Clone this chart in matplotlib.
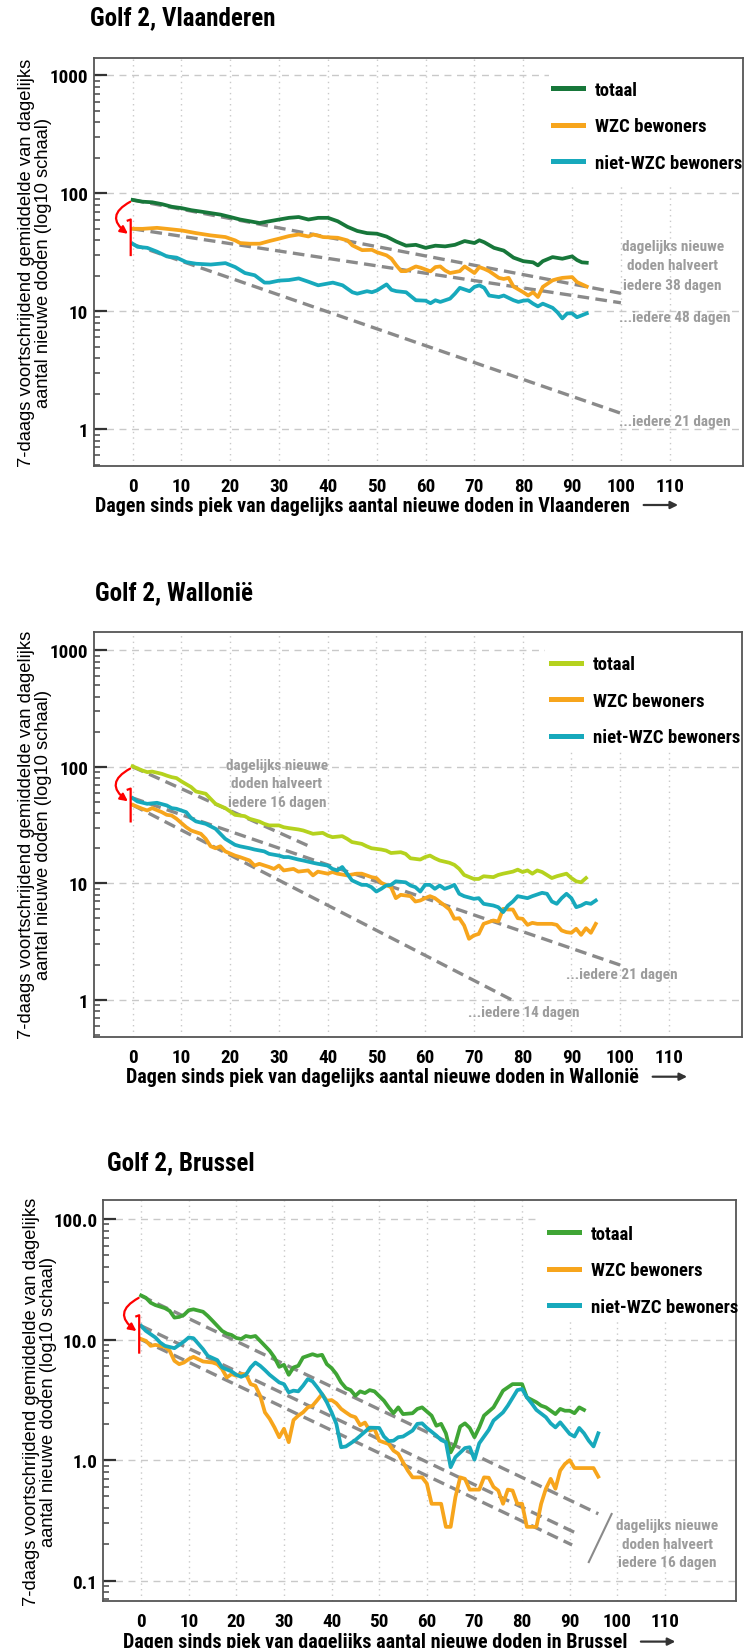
import matplotlib
matplotlib.use('Agg')
import matplotlib.pyplot as plt
import matplotlib.patches as mpatches
import matplotlib.font_manager as fm
from matplotlib.ticker import FixedLocator, LogLocator, NullFormatter
import numpy as np

W, H = 745, 1649

avail = {f.name for f in fm.fontManager.ttflist}
NARROW = next((n for n in ['Liberation Sans Narrow', 'Roboto Condensed', 'DejaVu Sans'] if n in avail), 'DejaVu Sans')
REGULAR = 'Liberation Sans' if 'Liberation Sans' in avail else 'DejaVu Sans'

# colours
TOT_VL = '#17773a'
TOT_WA = '#b5d21e'
TOT_BX = '#3fa535'
WZC = '#f7a51c'
NIET = '#17a9bc'
TREND = '#8a8a8a'
NOTE = '#9c9c9c'
GRID = '#c9c9c9'

LABELS = ['totaal', 'WZC bewoners', 'niet-WZC bewoners']

# ---- Vlaanderen: 7-day average of daily deaths, days since peak ----
vl_tot_days = [0, 2, 4, 6, 8, 10, 12, 14, 16, 18, 20, 22, 24, 26, 28, 30, 32, 34, 36, 38, 40, 42, 44, 46, 48,
               50, 52, 54, 56, 58, 60, 62, 64, 66, 68, 70, 71, 72, 74, 76, 78, 80, 82, 83, 84, 86, 88, 90, 91, 92, 93]
vl_tot = [88, 85, 84, 81, 77, 75, 72, 70, 68, 66, 63, 60, 58, 56, 58, 60, 62, 63, 60, 62, 62, 58, 52, 48, 46,
          45.5, 43, 39, 36, 36.6, 34.5, 36, 35.5, 36.6, 39.4, 37.9, 40, 38.5, 34.5, 32.7, 28.5, 26.6, 26, 24.5, 26.6,
          28.8, 27.9, 29.2, 27.2, 26, 25.8]
vl_wzc_days = [0, 2, 5, 7, 10, 13, 16, 19, 21, 22, 24, 26, 28, 30, 32, 34, 36, 37, 39, 42, 44, 45, 47, 49, 50,
               52, 53, 54, 55, 56, 58, 59, 61, 62, 63, 64, 65, 67, 68, 69, 70, 71, 72, 73, 75, 76, 77, 78, 80, 81,
               82, 83, 84, 86, 87, 88, 90, 91, 93]
vl_wzc = [50.1, 50, 51, 50, 48.5, 46, 44, 42.6, 39.9, 37.9, 37.4, 37.4, 39.4, 41.3, 43.4, 44.8, 43.1, 44.8, 42.6,
          42, 39.9, 36.2, 33, 33.2, 31.7, 29.8, 27.9, 24.5, 21.9, 21.9, 24, 23.4, 21.8, 23.7, 24, 22.2, 21.1, 21.9,
          24, 22.5, 21.1, 23.7, 22.9, 21.9, 19.2, 18.8, 19.2, 16.2, 14.5, 13.6, 14.5, 13.2, 16.1, 18.3, 18.8, 19.2,
          19.5, 17.7, 16.2]
vl_niet_days = [0, 1, 3, 5, 7, 9, 11, 13, 16, 19, 21, 23, 25, 27, 28, 30, 32, 34, 36, 38, 39, 41, 43, 45, 46,
                48, 49, 50, 52, 53, 54, 56, 57, 58, 60, 61, 62, 63, 65, 66, 67, 69, 70, 71, 72, 73, 75, 76, 78, 79,
                80, 81, 82, 83, 84, 86, 87, 88, 89, 90, 91, 93]
vl_niet = [37.4, 35.2, 34.5, 32, 29.2, 28.5, 26.1, 25.3, 24.9, 25.6, 23.7, 21.1, 20.2, 17.5, 17.5, 18.2, 18.4, 19,
           17.8, 16.6, 16.9, 17.5, 16.6, 14.5, 14.1, 14.8, 14.5, 15, 16.9, 15.2, 14.8, 14.5, 13.4, 12.4, 12.3, 11.7,
           12.4, 12, 12.8, 14.1, 15.8, 14.8, 16.1, 16.6, 15.8, 13.6, 13.2, 13.6, 12.4, 12, 12.3, 12.4, 11.6, 11,
           11.6, 10.7, 9.8, 8.7, 9.6, 9.6, 8.9, 9.6]
vl_trend_start = [88, 50, 37]
vl_halving = [38, 48, 21]
vl_trend_end = [100, 100, 100]

# ---- Wallonie ----
wa_tot_days = [0, 2, 3, 4, 6, 7, 8, 9, 10, 12, 13, 15, 16, 17, 19, 20, 21, 23, 24, 26, 27, 28, 30, 31, 32, 34,
               35, 37, 39, 40, 41, 43, 44, 45, 47, 48, 49, 51, 52, 53, 55, 56, 57, 59, 60, 61, 62, 63, 65, 66, 67,
               68, 70, 71, 72, 74, 75, 76, 78, 79, 80, 81, 82, 83, 84, 86, 87, 88, 89, 90, 91, 92, 93]
wa_tot = [101, 93, 90, 91, 87, 84, 81.5, 80, 75, 67, 61.4, 58.7, 53.1, 48.1, 44.2, 41.4, 38.7, 37.7, 35.8, 33.9,
          32.4, 31.4, 31.4, 30.3, 29.8, 29, 28.4, 26.6, 27.1, 25.7, 24.9, 25.4, 24.1, 22.6, 21.8, 20.8, 20, 19.5,
          19.1, 18.2, 18.5, 17.9, 16.4, 16, 16.8, 17.3, 16.4, 15.7, 15, 14.4, 13.3, 11.8, 10.9, 10.9, 11.5, 11.3,
          11.8, 12.1, 12.6, 13.1, 12.5, 12.9, 12.1, 12.9, 12.5, 11.1, 11.5, 11.8, 12.1, 11.1, 10.4, 10.2, 11.1]
wa_wzc_days = [0, 2, 3, 4, 6, 7, 8, 9, 11, 12, 14, 15, 16, 17, 18, 19, 21, 22, 24, 25, 26, 28, 29, 30, 31, 33,
               34, 36, 37, 38, 40, 41, 42, 44, 46, 47, 48, 49, 50, 51, 53, 54, 55, 57, 58, 59, 60, 61, 62, 64, 65,
               66, 67, 68, 69, 70, 71, 72, 74, 75, 76, 77, 78, 79, 80, 81, 82, 83, 85, 86, 87, 88, 89, 90, 91, 92,
               93, 94, 95]
wa_wzc = [47.2, 43.6, 42.2, 44.2, 40.8, 38.7, 38.2, 35.8, 30.3, 28.4, 26.6, 24.1, 20.8, 20, 20.8, 18.8, 17.3, 16.8,
          15.7, 14.2, 14.7, 13.8, 13.3, 14.2, 12.9, 13.3, 12.6, 12.9, 11.7, 12.6, 12.1, 12.5, 12.1, 11.7, 12.1,
          12.1, 11.7, 11.3, 11.1, 10.1, 9.27, 7.46, 7.97, 7.76, 6.98, 7.12, 7.46, 7.76, 7.46, 6.45, 5.96, 4.96,
          5.02, 4.35, 3.34, 3.57, 3.68, 4.49, 4.8, 4.7, 6.04, 5.96, 5.96, 5.02, 4.96, 4.4, 4.58, 4.49, 4.49, 4.49,
          4.4, 3.94, 3.81, 3.76, 4.07, 3.61, 4.12, 3.76, 4.49]
wa_niet_days = [0, 1, 3, 5, 7, 8, 9, 11, 12, 13, 15, 17, 18, 19, 21, 22, 24, 25, 27, 28, 30, 31, 32, 34, 35, 37,
                38, 40, 41, 42, 43, 44, 45, 47, 48, 49, 50, 51, 52, 53, 54, 56, 57, 58, 59, 60, 61, 62, 63, 64, 65,
                66, 67, 68, 70, 71, 72, 74, 75, 76, 77, 78, 79, 81, 82, 84, 85, 86, 87, 88, 89, 90, 91, 92, 93, 94,
                95]
wa_niet = [53.8, 50.4, 48.1, 49.1, 46.6, 44.2, 43.6, 40.8, 36.3, 34, 32.4, 29.4, 26.6, 24.1, 21.4, 20.8, 20,
           19.5, 18.8, 17.9, 17.3, 16.8, 16.8, 16, 15.7, 15, 14.7, 14.2, 13.3, 12.9, 13.8, 12.1, 10.6, 9.7, 9.7,
           9.27, 8.5, 8.97, 9.58, 9.7, 10.4, 10.2, 9.58, 9.27, 8.5, 9.7, 9.7, 8.97, 9.58, 8.97, 9.27, 9.7, 8.13,
           7.76, 7.36, 7.46, 6.67, 6.45, 6.24, 5.66, 6.45, 6.98, 7.76, 7.46, 7.76, 8.29, 8.13, 6.98, 6.67, 7.46,
           8.13, 7.46, 6.24, 6.45, 6.8, 6.67, 7.12]
wa_trend_start = [100, 54, 47]
wa_halving = [16, 21, 14]
wa_trend_end = [37, 100, 78]

# ---- Brussel ----
bx_tot_days = [0, 1, 2, 3, 5, 6, 7, 8, 9, 10, 11, 13, 14, 15, 17, 18, 19, 20, 21, 22, 23, 24, 25, 26, 27, 28,
               29, 30, 31, 32, 33, 34, 36, 37, 38, 39, 40, 41, 42, 43, 44, 45, 46, 47, 48, 49, 51, 52, 53, 54, 55,
               57, 58, 59, 61, 62, 63, 64, 65, 66, 67, 68, 69, 70, 71, 72, 74, 75, 76, 78, 80, 81, 83, 84, 85, 87,
               88, 89, 90, 91, 92, 93]
bx_tot = [23.2, 22.2, 20.2, 19.3, 18.2, 17.3, 15.2, 15.4, 16, 17.5, 17.8, 17, 15.7, 14.3, 11.8, 11.2, 10.9, 10.3,
          10.1, 10.7, 10.5, 10.7, 9.75, 8.87, 8.06, 7.1, 5.94, 6.17, 5.1, 5.87, 6.06, 7.1, 7.56, 7.33, 7.47, 6.25,
          5.8, 5.17, 4.41, 3.96, 3.81, 3.42, 3.72, 3.6, 3.81, 3.72, 3.11, 2.74, 2.45, 2.74, 2.41, 2.45, 2.66, 2.74,
          2.34, 1.93, 2, 1.67, 1.16, 1.38, 1.9, 2.02, 1.85, 1.55, 1.87, 2.34, 2.74, 3.21, 3.77, 4.27, 4.27, 3.32,
          3.02, 2.83, 2.74, 2.41, 2.66, 2.57, 2.57, 2.45, 2.74, 2.61]
bx_wzc_days = [0, 1, 2, 3, 4, 5, 6, 7, 8, 9, 10, 11, 12, 13, 15, 16, 17, 18, 19, 20, 21, 22, 23, 24, 25, 26, 27,
               28, 29, 30, 31, 32, 33, 34, 35, 36, 37, 38, 39, 40, 41, 42, 43, 44, 45, 46, 47, 48, 49, 50, 52, 53,
               54, 55, 56, 57, 59, 60, 61, 63, 64, 65, 66, 67, 68, 69, 70, 71, 72, 73, 74, 75, 76, 77, 78, 79, 80,
               81, 82, 83, 84, 85, 86, 87, 88, 89, 90, 91, 93, 95, 96]
bx_wzc = [10.1, 9.75, 8.87, 9.03, 8.87, 8.7, 8.06, 6.66, 6.25, 6.45, 6.88, 7.19, 6.88, 6.58, 6.45, 6.25, 5.69,
          4.85, 5.17, 5.01, 5.17, 5.17, 4.27, 4.14, 3.42, 2.49, 2.2, 1.87, 1.55, 1.82, 1.41, 2.15, 2.34, 2.49,
          2.74, 2.83, 3.15, 3.53, 3.11, 3.15, 2.96, 2.66, 2.49, 2.34, 2.27, 1.95, 2.05, 1.76, 1.82, 1.45, 1.36,
          1.2, 1.13, 0.96, 0.82, 0.72, 0.72, 0.64, 0.435, 0.435, 0.28, 0.28, 0.494, 0.72, 0.7, 0.57, 0.57, 0.57,
          0.72, 0.715, 0.6, 0.56, 0.435, 0.57, 0.56, 0.435, 0.435, 0.28, 0.28, 0.28, 0.435, 0.58, 0.7, 0.58, 0.82,
          0.93, 1.0, 0.86, 0.86, 0.86, 0.73]
bx_niet_days = [0, 1, 3, 4, 5, 7, 8, 9, 10, 11, 13, 14, 16, 17, 19, 20, 21, 22, 23, 24, 25, 26, 27, 29, 30, 31,
                32, 33, 34, 35, 36, 37, 38, 39, 40, 41, 42, 43, 44, 45, 47, 48, 50, 51, 52, 53, 54, 55, 57, 58, 59,
                60, 62, 63, 64, 65, 66, 68, 69, 70, 71, 73, 74, 76, 77, 79, 80, 81, 82, 83, 85, 86, 87, 88, 90, 91,
                92, 93, 94, 95, 96]
bx_niet = [12.97, 11.8, 10.4, 9.45, 8.87, 8.48, 9.03, 9.63, 10.4, 10.26, 8.32, 7.33, 6.75, 5.87, 5.44, 5.1, 4.91,
           5.1, 5.87, 6.45, 6.06, 5.58, 5.1, 4.41, 4.27, 3.65, 3.77, 3.72, 4.14, 4.7, 4.5, 4.01, 3.53, 3.02, 2.49,
           2.0, 1.28, 1.3, 1.38, 1.47, 1.72, 1.86, 1.85, 1.57, 1.44, 1.45, 1.55, 1.57, 1.76, 2.0, 2.02, 1.85, 1.6,
           1.47, 1.41, 0.875, 1.06, 1.26, 1.28, 1.01, 1.38, 1.78, 2.13, 2.49, 2.83, 3.81, 3.89, 3.32, 2.96, 2.61,
           2.27, 2.02, 1.87, 2.06, 1.65, 1.57, 1.85, 1.67, 1.45, 1.3, 1.67]
bx_trend_start = [23, 13, 10]
bx_halving = [16, 16, 16]
bx_trend_end = [96, 92, 90.5]


def fx(px):
    return px / W


def fy(py):
    return 1 - py / H


def narrow(size, **kw):
    return dict(family=NARROW, weight='bold', size=size, **kw)


fig = plt.figure(figsize=(W / 100, H / 100), dpi=100)
renderer = fig.canvas.get_renderer()


def setup_axes(rect, ylim, ticks, ticklabels, ylabel_x):
    ax = fig.add_axes(rect)
    ax.set_yscale('log')
    ax.set_xlim(-8, 125)
    ax.set_ylim(*ylim)
    ax.set_xticks(range(0, 111, 10))
    ax.yaxis.set_major_locator(FixedLocator(ticks))
    ax.set_yticklabels(ticklabels)
    ax.yaxis.set_minor_locator(LogLocator(base=10, subs=np.arange(2, 10)))
    ax.yaxis.set_minor_formatter(NullFormatter())
    ax.tick_params(axis='y', which='major', direction='in', length=9, width=1.6, color='#333333', pad=4)
    ax.tick_params(axis='y', which='minor', direction='in', length=4, width=1.2, color='#555555')
    ax.tick_params(axis='x', length=0, pad=8)
    for lab in ax.get_xticklabels() + ax.get_yticklabels():
        lab.set_fontfamily(NARROW)
        lab.set_fontweight('bold')
        lab.set_fontsize(13.8)
    ax.grid(axis='y', which='major', ls=(0, (5, 4)), color=GRID, lw=1)
    ax.grid(axis='x', ls=(0, (1, 3)), color=GRID, lw=1)
    ax.set_axisbelow(True)
    for sp in ax.spines.values():
        sp.set_color('#555555')
        sp.set_linewidth(1.3)
    ax.set_ylabel('7-daags voortschrijdend gemiddelde van dagelijks\naantal nieuwe doden (log10 schaal)',
                  family=REGULAR, fontsize=13.2, linespacing=1.02)
    ax.yaxis.set_label_coords(ylabel_x, 0.5)
    return ax


def draw_panel(ax, tot_color, days_list, values_list, trend_start, halving, trend_end,
               cover, legend_xy, red):
    # white block behind the legend hides the grid there
    ax.add_patch(mpatches.Rectangle((cover[0], cover[1]), 1 - cover[0], 1 - cover[1],
                                    transform=ax.transAxes, facecolor='white', edgecolor='none', zorder=1))
    for y0, t, x_end in zip(trend_start, halving, trend_end):
        x = np.linspace(0, x_end, 60)
        ax.plot(x, y0 * 0.5 ** (x / t), color=TREND, lw=2.4, dashes=(3.5, 1.9), zorder=2)
    handles = []
    for d, v, c in zip(days_list, values_list, [tot_color, WZC, NIET]):
        h, = ax.plot(d, v, color=c, lw=2.7, zorder=3, solid_joinstyle='round')
        handles.append(h)
    leg = ax.legend(handles, LABELS, loc='upper left', bbox_to_anchor=legend_xy, frameon=False,
                    prop=narrow(13.5), handlelength=1.6, handletextpad=0.65, labelspacing=0.98,
                    borderpad=0, borderaxespad=0)
    for ln in leg.get_lines():
        ln.set_linewidth(3.6)
    # red arrow from the peak of the total down to the split series
    top, tip, lo, hi = red
    ax.add_patch(mpatches.FancyArrowPatch((0, top), (-0.5, tip), connectionstyle='arc3,rad=0.85',
                                          arrowstyle='-|>', mutation_scale=11, color='red', lw=1.6,
                                          zorder=4, clip_on=False))
    ax.plot([-1.0, -0.4, -0.4], [hi * 0.98, hi, lo], color='red', lw=1.6, zorder=4, clip_on=False)


def x_label(text, x, y):
    t = fig.text(fx(x), fy(y), text, ha='left', va='center', **narrow(14.5))
    end = t.get_window_extent(renderer).x1
    fig.add_artist(mpatches.FancyArrowPatch((fx(end + 11), fy(y)), (fx(end + 51), fy(y)),
                                            transform=fig.transFigure, arrowstyle='-|>',
                                            mutation_scale=11, lw=1.6, color='#333333'))


def note(ax, x, y, s, ha='center'):
    ax.text(x, y, s, ha=ha, va='center', color=NOTE, clip_on=False, **narrow(11))


# ---- panel 1: Vlaanderen ----
fig.text(fx(90), fy(18), 'Golf 2, Vlaanderen', ha='left', va='center', **narrow(18))
ax1 = setup_axes([fx(93.6), fy(466.7), (743 - 93.6) / W, (466.7 - 58.5) / H], (0.49, 1420),
                 [1, 10, 100, 1000], ['1', '10', '100', '1000'], -0.064)
draw_panel(ax1, TOT_VL, [vl_tot_days, vl_wzc_days, vl_niet_days], [vl_tot, vl_wzc, vl_niet],
           vl_trend_start, vl_halving, vl_trend_end, (0.701, 0.688), (0.7074, 0.9424), (87, 44, 30, 60))
note(ax1, 110.6, 35.9, 'dagelijks nieuwe')
note(ax1, 110.6, 24.7, 'doden halveert')
note(ax1, 110.6, 16.8, 'iedere 38 dagen')
note(ax1, 99.7, 8.88, '...iedere 48 dagen', ha='left')
note(ax1, 99.7, 1.18, '...iedere 21 dagen', ha='left')
x_label('Dagen sinds piek van dagelijks aantal nieuwe doden in Vlaanderen', 95, 506)

# ---- panel 2: Wallonie ----
fig.text(fx(95), fy(593), 'Golf 2, Wallonië', ha='left', va='center', **narrow(18))
ax2 = setup_axes([fx(93.6), fy(1038), (742 - 93.6) / W, (1038 - 632.7) / H], (0.48, 1443),
                 [1, 10, 100, 1000], ['1', '10', '100', '1000'], -0.064)
draw_panel(ax2, TOT_WA, [wa_tot_days, wa_wzc_days, wa_niet_days], [wa_tot, wa_wzc, wa_niet],
           wa_trend_start, wa_halving, wa_trend_end, (0.696, 0.706), (0.7054, 0.9415), (99, 49, 34, 65))
note(ax2, 29.6, 104, 'dagelijks nieuwe')
note(ax2, 29.6, 72.1, 'doden halveert')
note(ax2, 29.6, 49.6, 'iedere 16 dagen')
note(ax2, 88.8, 1.66, '...iedere 21 dagen', ha='left')
note(ax2, 68.7, 0.784, '...iedere 14 dagen', ha='left')
x_label('Dagen sinds piek van dagelijks aantal nieuwe doden in Wallonië', 126, 1077.7)

# ---- panel 3: Brussel ----
fig.text(fx(107), fy(1163.5), 'Golf 2, Brussel', ha='left', va='center', **narrow(18))
ax3 = setup_axes([fx(103), fy(1602), (736.4 - 103) / W, (1602 - 1201) / H], (0.068, 143.5),
                 [0.1, 1, 10, 100], ['0.1', '1.0', '10.0', '100.0'], -0.072)
draw_panel(ax3, TOT_BX, [bx_tot_days, bx_wzc_days, bx_niet_days], [bx_tot, bx_wzc, bx_niet],
           bx_trend_start, bx_halving, bx_trend_end, (0.691, 0.698), (0.7041, 0.938), (22.7, 11.4, 7.8, 15.9))
note(ax3, 110.5, 0.292, 'dagelijks nieuwe')
note(ax3, 110.5, 0.203, 'doden halveert')
note(ax3, 110.5, 0.143, 'iedere 16 dagen')
ax3.plot([98.8, 94], [0.358, 0.143], color='#8a8a8a', lw=1.5, zorder=2, clip_on=False)
x_label('Dagen sinds piek van dagelijks aantal nieuwe doden in Brussel', 122.6, 1642.6)

fig.savefig('out.png', dpi=100)
